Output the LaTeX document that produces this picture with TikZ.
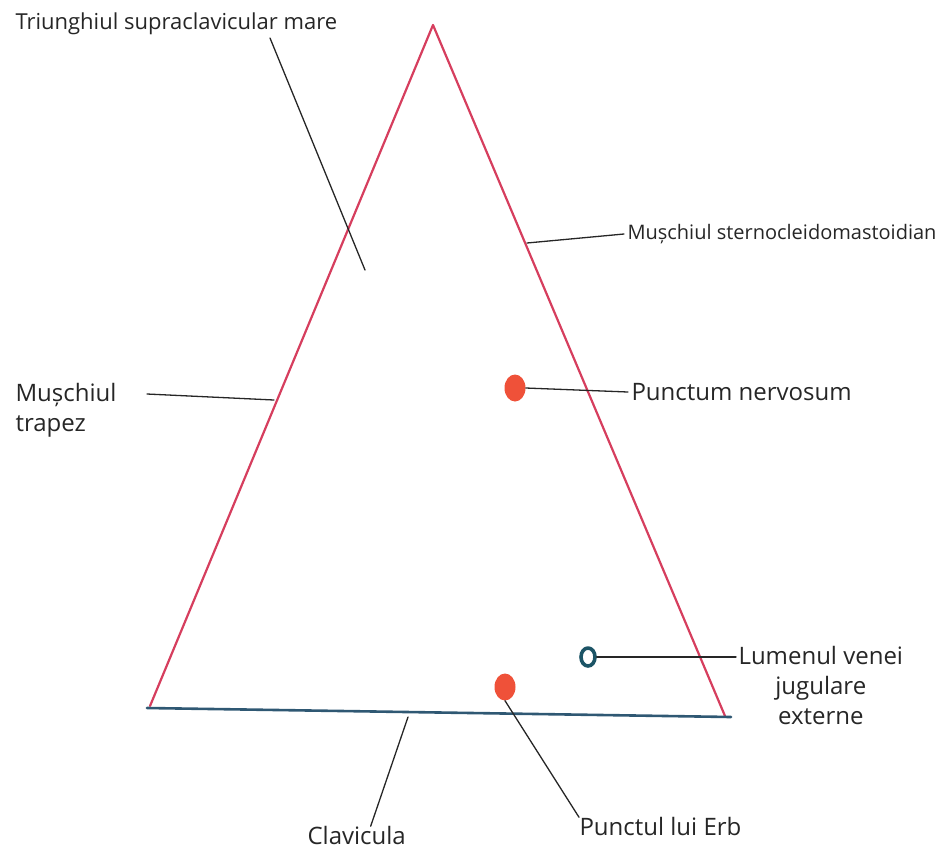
\documentclass[tikz,border=0pt]{standalone}
\usepackage{fontspec}
\setmainfont{Open Sans}
\usetikzlibrary{shapes.geometric}

\definecolor{muschired}{HTML}{D63E5E}
\definecolor{punctred}{HTML}{EF5139}
\definecolor{clavblue}{HTML}{2F5873}
\definecolor{venablue}{HTML}{1C5466}

\begin{document}
\begin{tikzpicture}[
    x=1pt,
    y=-1pt,
    line cap=round,
    line join=round,
    muscle/.style={
        line width=2.2pt,
        muschired
    },
    bone/.style={
        line width=2.6pt,
        clavblue
    },
    leader/.style={
        line width=1.3pt,
        black!85
    },
    punctdot/.style={
        ellipse,
        fill=punctred,
        inner sep=0pt,
        minimum width=21pt,
        minimum height=27pt
    },
    veinring/.style={
        ellipse,
        draw=venablue,
        line width=3.6pt,
        inner sep=0pt,
        minimum width=14pt,
        minimum height=18pt
    },
    longlabel/.style={
        font=\fontsize{20}{30}\selectfont
    },
    every node/.style={
        font=\fontsize{24}{30}\selectfont,
        text=black!85
    }
]

\useasboundingbox (0,0) rectangle (941,852);

% =================================================
% Varfurile triunghiului
% =================================================

\coordinate (V)  at (433,25);
\coordinate (L)  at (150,706);
\coordinate (R)  at (725,716);

\coordinate (C1) at (147,708);
\coordinate (C2) at (731,717);

% =================================================
% Laturile: muschii si clavicula
% =================================================

\draw[muscle] (L)--(V)--(R);
\draw[bone]   (C1)--(C2);

% =================================================
% Puncte marcate
% =================================================

\node[punctdot] (nerv) at (515,388) {};
\node[punctdot] (erb)  at (505,687) {};
\node[veinring] (vena) at (588,657) {};

% =================================================
% Subtitluri
% =================================================

\node[anchor=west, longlabel, font=\fontsize{22}{30}\selectfont] (triunghi) at (12,24) {Triunghiul supraclavicular mare};
\node[anchor=west, longlabel] (scm)     at (624,234) {Mușchiul sternocleidomastoidian};
\node[anchor=west] (nervlbl)  at (628,392) {Punctum nervosum};
\node[anchor=west, align=left] (trapez) at (12,410) {Mușchiul\\trapez};
\node[anchor=north west, align=center] (lumen) at (735,643) {Lumenul venei\\jugulare\\externe};
\node[anchor=west] (erblbl)   at (576,826) {Punctul lui Erb};
\node[anchor=west] (clav)     at (304,835) {Clavicula};

% =================================================
% Capete libere ale liniilor
% =================================================

\coordinate (triend)    at (270,38);
\coordinate (triin)     at (365,270);
\coordinate (scmend)    at (527,243);
\coordinate (trapstart) at (147,394);
\coordinate (trapend)   at (274,400);
\coordinate (lumend)    at (736,657);
\coordinate (clavend)   at (408,717);

% =================================================
% Linii de indicatie
% =================================================

\draw[leader] (triend)--(triin);
\draw[leader] (scmend)--(scm.west);
\draw[leader] (nerv.east)--(nervlbl.west);
\draw[leader] (trapstart)--(trapend);
\draw[leader] (vena.east)--(lumend);
\draw[leader] (erb.south)--([xshift=3pt,yshift=-4pt]erblbl.north west);
\draw[leader] (clavend)--([xshift=14pt,yshift=-4pt]clav.north);

\end{tikzpicture}
\end{document}
